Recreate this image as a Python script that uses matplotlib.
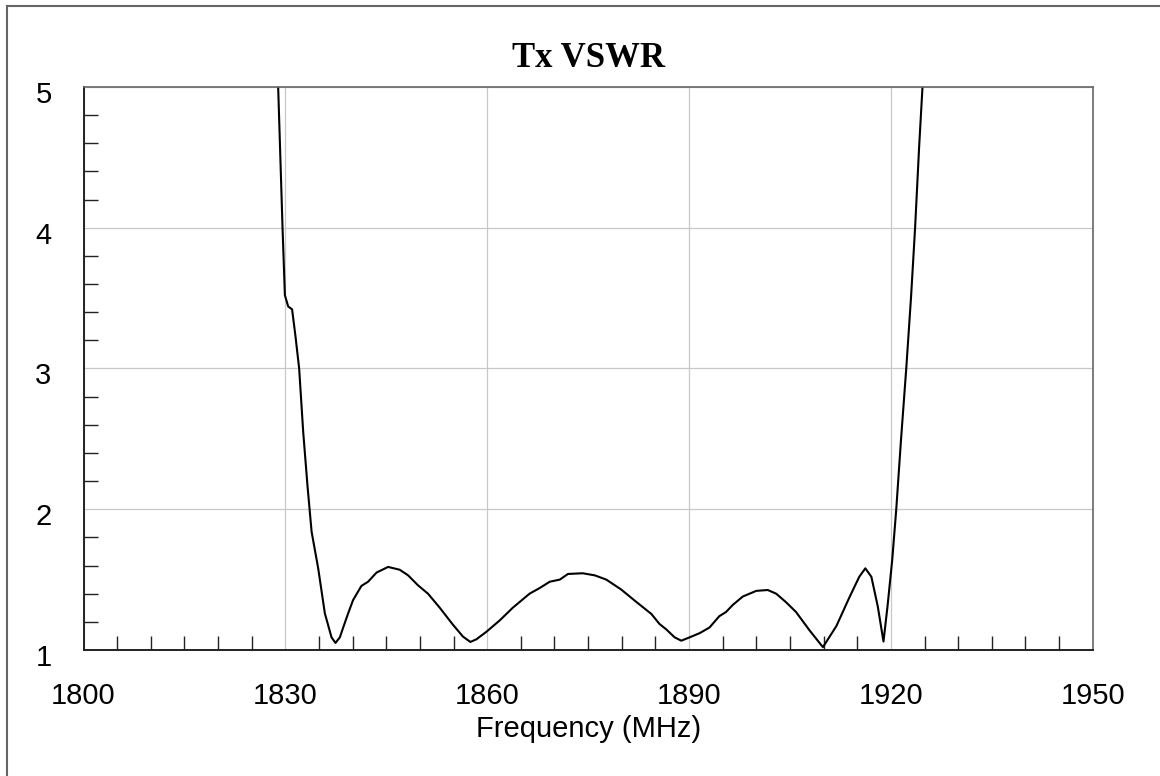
import matplotlib
matplotlib.use("Agg")
import matplotlib.pyplot as plt
import matplotlib.transforms as mtransforms
from matplotlib.lines import Line2D
from matplotlib.ticker import MultipleLocator, FixedLocator

# Tx VSWR trace
freq_mhz = [
    1828.93, 1829.58, 1829.93, 1830.42, 1831.0, 1831.5, 1832.05, 1832.65,
    1833.3, 1833.9, 1834.88, 1835.87, 1836.86, 1837.45, 1838.1, 1838.6,
    1839.33, 1840.07, 1841.3, 1842.3, 1843.55, 1845.27, 1847.0, 1848.25,
    1849.7, 1851.2, 1852.95, 1854.9, 1856.4, 1857.5, 1858.4, 1859.9,
    1861.86, 1863.8, 1866.3, 1867.8, 1869.3, 1870.8, 1872.0, 1874.2,
    1876.0, 1877.7, 1879.9, 1882.2, 1884.4, 1885.6, 1886.6, 1887.85,
    1888.85, 1890.1, 1891.6, 1893.05, 1894.5, 1895.5, 1896.5, 1898.0,
    1900.0, 1901.7, 1902.95, 1904.4, 1905.9, 1907.9, 1909.9, 1911.9,
    1913.8, 1915.3, 1916.2, 1917.1, 1918.05, 1918.9, 1919.5, 1920.2,
    1920.8, 1921.5, 1922.3, 1923.0, 1923.6, 1924.2, 1924.7,
]
vswr = [
    5.0, 4.0, 3.52, 3.44, 3.42, 3.23, 3.0, 2.55,
    2.16, 1.84, 1.58, 1.26, 1.09, 1.05, 1.09, 1.16,
    1.26, 1.355, 1.455, 1.485, 1.55, 1.59, 1.57, 1.53,
    1.46, 1.40, 1.30, 1.18, 1.095, 1.057, 1.076, 1.13,
    1.21, 1.30, 1.40, 1.44, 1.485, 1.50, 1.54, 1.545,
    1.53, 1.50, 1.43, 1.34, 1.256, 1.185, 1.147, 1.09,
    1.066, 1.09, 1.12, 1.16, 1.24, 1.27, 1.32, 1.38,
    1.42, 1.426, 1.40, 1.34, 1.27, 1.14, 1.02, 1.17,
    1.37, 1.52, 1.58, 1.52, 1.31, 1.06, 1.31, 1.64,
    2.0, 2.49, 3.01, 3.51, 4.0, 4.575, 5.0,
]

x_ticks = [1800, 1830, 1860, 1890, 1920, 1950]
y_ticks = [1, 2, 3, 4, 5]

LABEL_FONT = "Liberation Sans"
TITLE_FONT = "Liberation Serif"


def main():
    fig = plt.figure(figsize=(11.6, 7.76), dpi=100)
    ax = fig.add_axes([0.072, 0.1624, 0.870, 0.7256])

    ax.plot(freq_mhz, vswr, color="black", lw=1.5, solid_joinstyle="round")

    ax.set_xlim(1800, 1950)
    ax.set_ylim(1, 5)
    ax.xaxis.set_major_locator(FixedLocator(x_ticks))
    ax.yaxis.set_major_locator(FixedLocator(y_ticks))
    ax.xaxis.set_minor_locator(MultipleLocator(5))
    ax.yaxis.set_minor_locator(MultipleLocator(0.2))

    ax.grid(True, which="major", color="#c8c8c8", lw=0.9)
    ax.set_axisbelow(True)

    ax.tick_params(which="major", length=0, labelsize=21, colors="black")
    ax.tick_params(axis="x", which="major", pad=23)
    ax.tick_params(axis="y", which="major", pad=23)
    ax.tick_params(which="minor", direction="in", length=10, width=1.0,
                   color="#222222")
    ax.tick_params(top=False, right=False, which="both")

    # y labels sit a few pixels below their grid line in the reference
    shift = mtransforms.ScaledTranslation(0, -5 / 100, fig.dpi_scale_trans)
    for lab in ax.get_yticklabels():
        lab.set_transform(lab.get_transform() + shift)
    for lab in ax.get_xticklabels() + ax.get_yticklabels():
        lab.set_fontfamily(LABEL_FONT)

    for side in ["left", "bottom"]:
        ax.spines[side].set_color("#222222")
        ax.spines[side].set_linewidth(1.4)
    for side in ["top", "right"]:
        ax.spines[side].set_color("#666666")
        ax.spines[side].set_linewidth(1.2)

    ax.set_xlabel("Frequency (MHz)", fontsize=21, family=LABEL_FONT, labelpad=4)
    ax.set_title("Tx VSWR", fontsize=25, fontweight="bold", family=TITLE_FONT, pad=14)

    # outer frame (only left and top edges show in the reference)
    fx, fy = 7 / 1160, 1 - 6 / 776
    fig.add_artist(Line2D([fx, fx], [0, fy], transform=fig.transFigure,
                          color="#666666", lw=1.5))
    fig.add_artist(Line2D([fx, 1], [fy, fy], transform=fig.transFigure,
                          color="#666666", lw=1.5))

    fig.savefig("out.png", dpi=100)
    plt.close(fig)


if __name__ == "__main__":
    main()
